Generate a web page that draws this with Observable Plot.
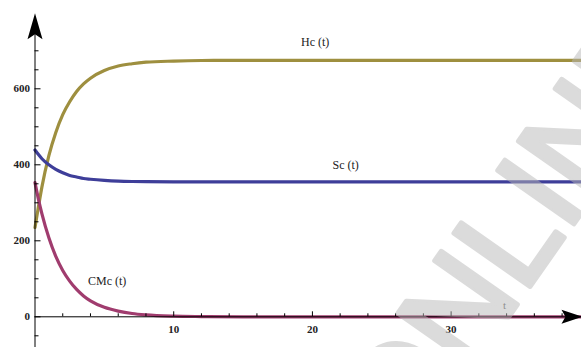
<!DOCTYPE html>
<html><head><meta charset="utf-8">
<script src="https://cdn.jsdelivr.net/npm/d3@7"></script>
<script src="https://cdn.jsdelivr.net/npm/@observablehq/plot@0.6"></script>
<style>
body{margin:0;background:#fff}
g[aria-label="tick-labels"] text{letter-spacing:1px}
</style>
</head><body><div id="chart"></div>
<script>
// time points and series values
const tValues   = [0, 0.25, 0.5, 1, 1.5, 2, 2.5, 3, 3.5, 4, 5, 6, 7, 8, 10, 12, 15, 20, 30, 39.4];
const hcValues  = [235, 290, 342, 424, 485, 532, 566, 593, 613, 628, 648, 660, 666, 670, 673, 674.5, 675, 675, 675, 675];
const scValues  = [439, 427, 416, 400, 388, 379, 372, 368, 364, 362, 359, 357, 356, 355.5, 355, 355, 355, 355, 355, 355];
const cmcValues = [353, 309, 271, 208, 159, 122, 94, 72, 55, 42, 25, 15, 8.6, 5, 1.7, 0.6, 0, 0, 0, 0];

const seriesNames  = ["Hc (t)", "Sc (t)", "CMc (t)"];
const seriesColors = ["#9e8f3f", "#3e3e99", "#a03c6e"];
const labelT = [20.2, 22.4, 5.2];
const labelV = [724, 398, 95];

const axisTitle = ["t"];
const axisTitleT = [33.85];
const axisTitleV = [31];

const xMajorTicks = [10, 20, 30];
const xMinorTicks = [2, 4, 6, 8, 12, 14, 16, 18, 22, 24, 26, 28, 32, 34, 36, 38];
const yMajorTicks = [0, 200, 400, 600];
const yMinorTicks = [-50, 50, 100, 150, 250, 300, 350, 450, 500, 550, 650, 700, 750];

const arrowUp = [{t: 0, v: 799}];
const arrowRight = [{t: 39.47, v: 0}];
const watermark = ["ONLINE"];

const rows = [];
const seriesValues = [hcValues, scValues, cmcValues];
seriesNames.forEach((s, i) => tValues.forEach((t, j) => rows.push({series: s, t, value: seriesValues[i][j]})));
const labels = seriesNames.map((s, i) => ({text: s, t: labelT[i], v: labelV[i]}));

const upSymbol = {draw(ctx) { ctx.moveTo(0, 0); ctx.lineTo(7.5, 26); ctx.lineTo(0, 21); ctx.lineTo(-7.5, 26); ctx.closePath(); }};
const rightSymbol = {draw(ctx) { ctx.moveTo(0, 0); ctx.lineTo(-21, -7); ctx.lineTo(-17, 0); ctx.lineTo(-21, 7); ctx.closePath(); }};

const serif = "'Liberation Serif', 'Times New Roman', serif";

const chart = Plot.plot({
  width: 581, height: 347,
  marginLeft: 34.5, marginRight: 0, marginTop: 0, marginBottom: 30.7,
  x: {domain: [0, 39.4], axis: null},
  y: {domain: [0, 832.4], axis: null},
  color: {domain: seriesNames, range: seriesColors},
  style: {fontFamily: serif, background: "white", color: "black"},
  marks: [
    Plot.line(rows, {x: "t", y: "value", z: "series", stroke: "series", strokeWidth: 3.2, curve: "monotone-x"}),
    Plot.ruleY([0], {x1: () => 0, x2: () => 39.4, stroke: "black", strokeWidth: 1}),
    Plot.ruleX([0], {y1: () => -82, y2: () => 780, stroke: "black", strokeWidth: 1}),
    Plot.axisX(xMinorTicks, {anchor: "bottom", tickSize: -3, tickFormat: () => "", label: null}),
    Plot.axisX(xMajorTicks, {anchor: "bottom", tickSize: -5, tickFormat: () => "", label: null}),
    Plot.axisY(yMinorTicks, {anchor: "left", tickSize: -4, tickFormat: () => "", label: null}),
    Plot.axisY(yMajorTicks, {anchor: "left", tickSize: -6, tickFormat: () => "", label: null}),
    Plot.text(xMajorTicks, {x: d => d, y: () => 0, dy: 13, text: d => String(d), fontFamily: serif, fontSize: 11, fontWeight: "bold", fill: "#222", ariaLabel: "tick-labels"}),
    Plot.text(yMajorTicks, {x: () => 0, y: d => d, dx: -5, textAnchor: "end", text: d => String(d), fontFamily: serif, fontSize: 11, fontWeight: "bold", fill: "#222", ariaLabel: "tick-labels"}),
    Plot.text(labels, {x: "t", y: "v", text: "text", fontFamily: serif, fontSize: 12, fill: "#222"}),
    Plot.text(axisTitle, {x: () => axisTitleT[0], y: () => axisTitleV[0], text: d => d, fontFamily: serif, fontSize: 11, fill: "#666"}),
    Plot.dot(arrowUp, {x: "t", y: "v", symbol: upSymbol, fill: "black", stroke: "none"}),
    Plot.dot(arrowRight, {x: "t", y: "v", symbol: rightSymbol, fill: "black", stroke: "none"}),
    Plot.text(watermark, {frameAnchor: "top-left", dx: 372.5, dy: 461, textAnchor: "start", lineAnchor: "bottom", rotate: -55, text: d => d, fontSize: 135, fontFamily: "'Liberation Sans', Arial, sans-serif", fill: "#b8b8b8", stroke: "#b8b8b8", strokeWidth: 5, opacity: 0.5})
  ]
});
document.getElementById("chart").appendChild(chart);
</script>
</body></html>
